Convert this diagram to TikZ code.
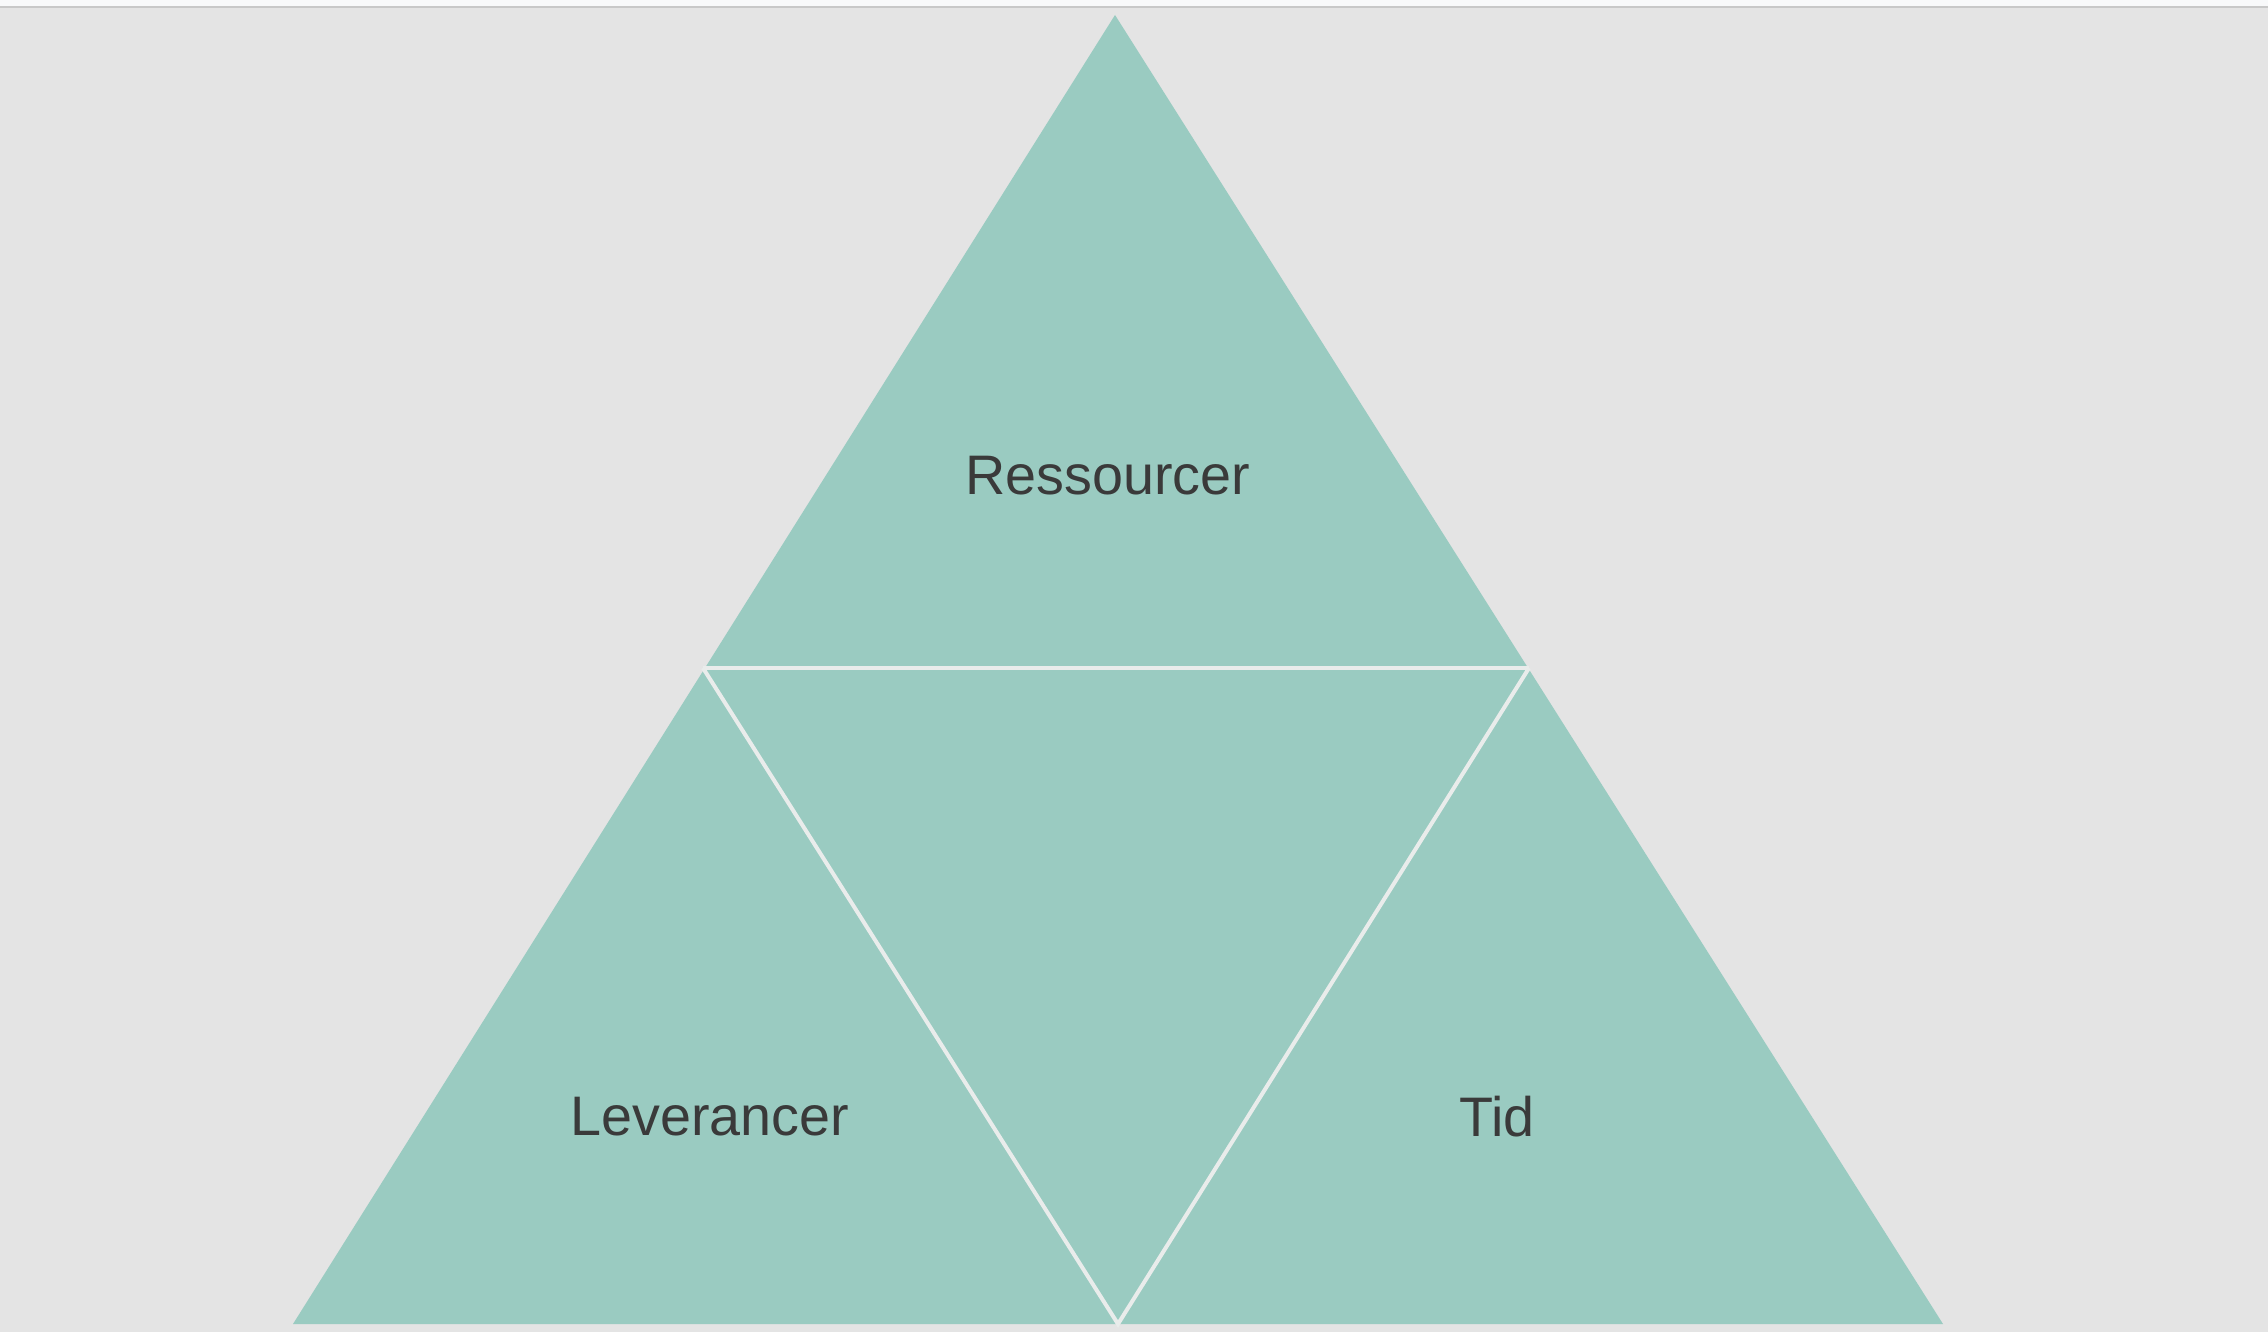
\documentclass[tikz,border=0pt]{standalone}
\usepackage{fontspec}
\setmainfont{Liberation Sans}
\definecolor{bg}{HTML}{E4E4E4}
\definecolor{topstrip}{HTML}{F8F9FA}
\definecolor{topline}{HTML}{C8C8C8}
\definecolor{teal}{HTML}{9ACBC1}
\definecolor{sep}{HTML}{E9ECEB}
\definecolor{txt}{HTML}{3A3A3A}
\begin{document}
\begin{tikzpicture}[x=1pt,y=-1pt,
  part/.style={fill=teal},
  sepline/.style={draw=sep,line width=4pt},
  lbl/.style={text=txt,font=\fontsize{55.7}{60}\selectfont,inner sep=0pt}]
\useasboundingbox (0,0) rectangle (2268,1332);
\fill[bg] (0,0) rectangle (2268,1332);
\fill[topstrip] (0,0) rectangle (2268,6);
\fill[topline] (0,6) rectangle (2268,8);
\coordinate (A) at (1115,15);
\coordinate (L) at (703,668);
\coordinate (R) at (1529,668);
\coordinate (BL) at (293,1324);
\coordinate (BM) at (1118,1324);
\coordinate (BR) at (1943,1324);
\fill[part] (A) -- (BL) -- (BR) -- cycle;
\draw[sepline] (L) -- (R);
\draw[sepline] (L) -- (BM) -- (R);
\node[lbl] (res) at (1108,476) {Ressourcer};
\node[lbl] (lev) at (710,1117) {Leverancer};
\node[lbl] (tid) at (1497,1117) {Tid};
\end{tikzpicture}
\end{document}
